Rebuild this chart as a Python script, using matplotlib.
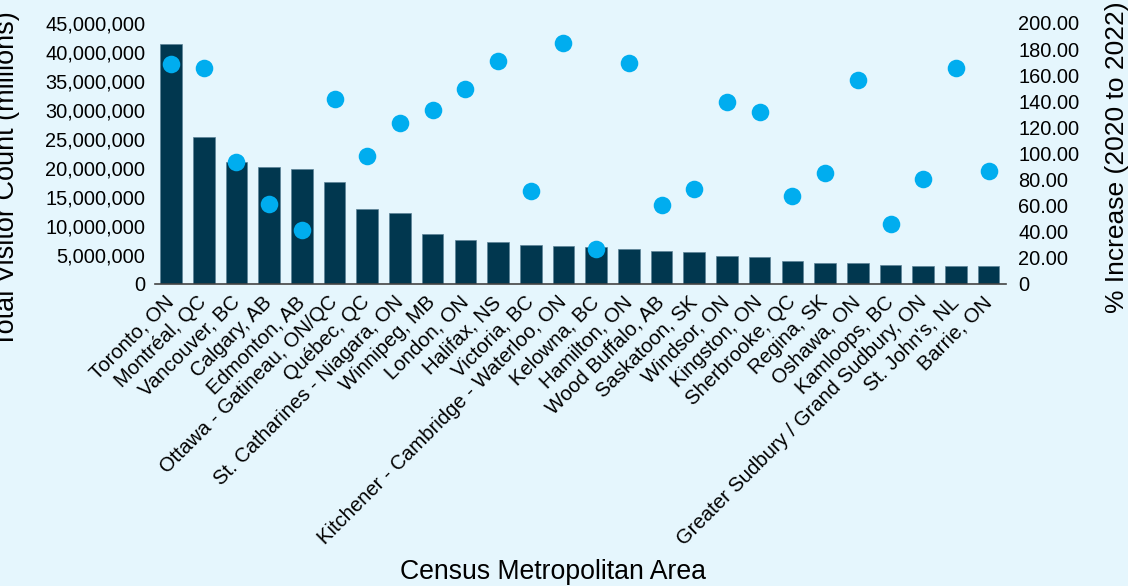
import matplotlib.pyplot as plt
from matplotlib.ticker import FuncFormatter

# dados
cidades = ["Toronto, ON", "Montréal, QC", "Vancouver, BC", "Calgary, AB",
           "Edmonton, AB", "Ottawa - Gatineau, ON/QC", "Québec, QC",
           "St. Catharines - Niagara, ON", "Winnipeg, MB", "London, ON",
           "Halifax, NS", "Victoria, BC", "Kitchener - Cambridge - Waterloo, ON",
           "Kelowna, BC", "Hamilton, ON", "Wood Buffalo, AB", "Saskatoon, SK",
           "Windsor, ON", "Kingston, ON", "Sherbrooke, QC", "Regina, SK",
           "Oshawa, ON", "Kamloops, BC", "Greater Sudbury / Grand Sudbury, ON",
           "St. John's, NL", "Barrie, ON"]

visitantes = [41400000, 25300000, 21000000, 20200000, 19800000, 17600000,
              12900000, 12200000, 8700000, 7600000, 7200000, 6700000,
              6500000, 6400000, 6100000, 5600000, 5500000, 4900000,
              4700000, 4000000, 3700000, 3600000, 3200000, 3100000,
              3100000, 3100000]

aumento_pct = [168.6, 165.3, 93.7, 61.3, 41.4, 141.5, 98.3, 123.6, 133.1,
               149.7, 170.9, 71.3, 184.7, 26.6, 169.1, 60.3, 72.6, 139.7,
               132.1, 67.4, 84.8, 156.3, 45.7, 80.2, 165.8, 86.8]

fundo = '#e5f6fd'
cor_barra = '#01374f'
cor_ponto = '#00adef'

plt.rcParams['font.family'] = ['Liberation Sans', 'DejaVu Sans']

fig = plt.figure(figsize=(11.28, 5.86), dpi=100)
fig.patch.set_facecolor(fundo)
ax = fig.add_axes([0.1374, 0.5154, 0.7544, 0.4454])
ax.set_facecolor(fundo)

x = list(range(len(cidades)))
ax.bar(x, visitantes, width=0.66, color=cor_barra, edgecolor='#5d8397',
       linewidth=0.5, zorder=2)
ax.set_xlim(-0.49, 25.53)
ax.set_ylim(0, 45000000)
ax.set_yticks(range(0, 45000001, 5000000))
ax.yaxis.set_major_formatter(FuncFormatter(lambda v, p: f'{int(v):,}'))
ax.set_xticks(x)
ax.set_xticklabels(cidades, rotation=45, ha='right', va='center',
                   rotation_mode='anchor', fontsize=14.6)
ax.tick_params(axis='both', length=0)
ax.tick_params(axis='y', pad=7, labelsize=14.4)
ax.tick_params(axis='x', pad=11)
for s in ['top', 'left', 'right']:
    ax.spines[s].set_visible(False)
ax.spines['bottom'].set_color('#444444')
ax.spines['bottom'].set_linewidth(1.2)
ax.set_ylabel('Total Visitor Count (millions)', fontsize=19.5)
ax.yaxis.set_label_coords(-0.1586, 0.40)

ax2 = ax.twinx()
ax2.scatter(x, aumento_pct, s=160, color=cor_ponto, zorder=3, linewidths=0)
ax2.set_ylim(0, 200)
ax2.set_yticks(range(0, 201, 20))
ax2.yaxis.set_major_formatter(FuncFormatter(lambda v, p: '0' if v == 0 else f'{v:.2f}'))
ax2.tick_params(axis='y', length=0, labelsize=14.4, pad=9)
for s in ['top', 'left', 'right', 'bottom']:
    ax2.spines[s].set_visible(False)
ax2.set_ylabel('% Increase (2020 to 2022)', fontsize=19)
ax2.yaxis.set_label_coords(1.1163, 0.487)

fig.text(0.49, 0.024, 'Census Metropolitan Area', ha='center', va='center', fontsize=19.2)

fig.savefig('out.png', dpi=100, facecolor=fundo)
